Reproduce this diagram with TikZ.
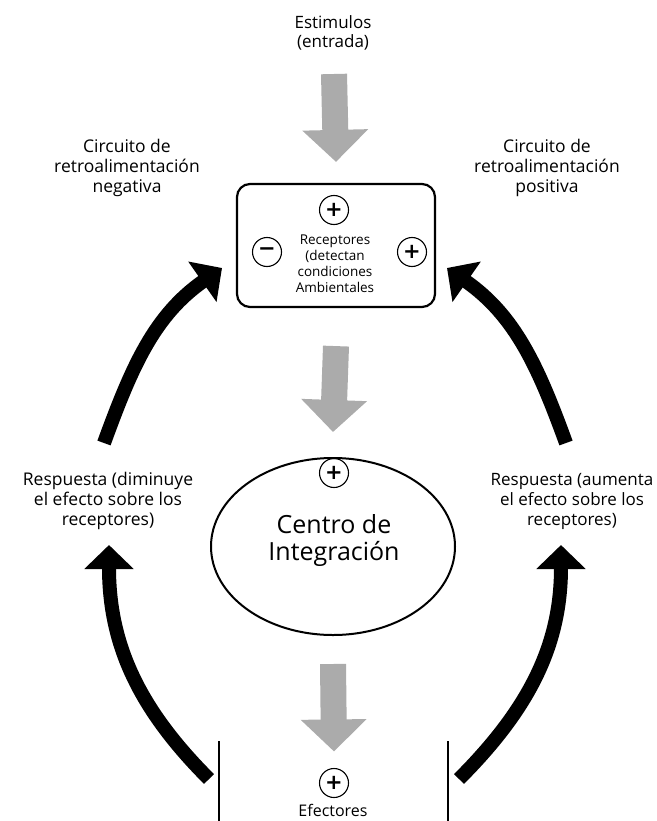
\documentclass[tikz,border=0pt]{standalone}
\usepackage{fontspec}
\setmainfont{Open Sans}
\newfontfamily\signfont{DejaVu Sans}
\usetikzlibrary{arrows.meta,shapes.geometric}

\begin{document}
\begin{tikzpicture}[x=1pt,y=-1pt,thick,
    label text/.style={align=center,font=\fontsize{17.5}{20}\selectfont},
    sign node/.style={circle,draw,line width=1.1pt,minimum size=29pt,inner sep=0pt,
                      font=\signfont\bfseries\fontsize{21}{21}\selectfont},
    gray arrow/.style={draw=black!33,line width=26pt,-{Triangle[width=64pt,length=32pt]}},
    black arrow/.style={draw=black,line width=14pt,-{Triangle[width=48pt,length=24pt]}}]

  \useasboundingbox (0,0) rectangle (656,821);

  \node[label text,font=\fontsize{17}{19}\selectfont] (estim) at (333,33) {Estimulos\\(entrada)};
  \node[label text] (negativa) at (127,168) {Circuito de\\retroalimentación\\negativa};
  \node[label text] (positiva) at (547,168) {Circuito de\\retroalimentación\\positiva};

  \node[draw,rounded corners=13pt,line width=2.2pt,minimum width=198pt,minimum height=123pt] (recep) at (336,245.5) {};
  \node[align=center,font=\fontsize{13.5}{16}\selectfont] (receptxt) at (335,264) {Receptores\\(detectan\\condiciones\\Ambientales};
  \node[sign node] (r1) at (334,210) {+};
  \node[sign node] (r2) at (267,252) {−};
  \node[sign node] (r3) at (412,252) {+};

  \node[ellipse,draw,line width=2pt,minimum width=244pt,minimum height=177pt] (centro) at (333,546.5) {};
  \node[align=center,font=\fontsize{25}{27}\selectfont] (centrotxt) at (334,540) {Centro de\\Integración};
  \node[sign node] (c1) at (334,473) {+};

  \node[label text] (resp1) at (108,501) {Respuesta (diminuye\\el efecto sobre los\\receptores)};
  \node[label text,font=\fontsize{17}{20}\selectfont] (resp2) at (572,501) {Respuesta (aumenta\\el efecto sobre los\\receptores)};

  \node[sign node] (e1) at (334,783) {+};
  \node[font=\fontsize{16}{16}\selectfont,anchor=base] (efect) at (333,816) {Efectores};
  \coordinate (efl) at (219,741);
  \coordinate (efr) at (448,741);
  \draw[line width=2pt] (efl) -- ++(0,90) (efr) -- ++(0,90);

  \coordinate (in1) at (334,74);
  \coordinate (t1) at (104,443);
  \coordinate (h1) at (222,268);
  \coordinate (t2) at (566,443);
  \coordinate (h2) at (447,268);
  \coordinate (t3) at (209,779);
  \coordinate (h3) at (109,545);
  \coordinate (t4) at (459,779);
  \coordinate (h4) at (561,545);

\path
    (in1) edge[gray arrow] ([yshift=21pt]recep.north)
    ([yshift=-38pt]recep.south) edge[gray arrow] ([yshift=25pt]centro.north)
    ([yshift=-28pt]centro.south) edge[gray arrow] ([yshift=16.5pt]e1.north)

    (t1) edge[black arrow,out=70,in=215] (h1)
    (t2) edge[black arrow,out=110,in=-35] (h2)
    (t3) edge[black arrow,out=135,in=-90] (h3)
    (t4) edge[black arrow,out=45,in=-90] (h4)
  ;

\end{tikzpicture}
\end{document}
